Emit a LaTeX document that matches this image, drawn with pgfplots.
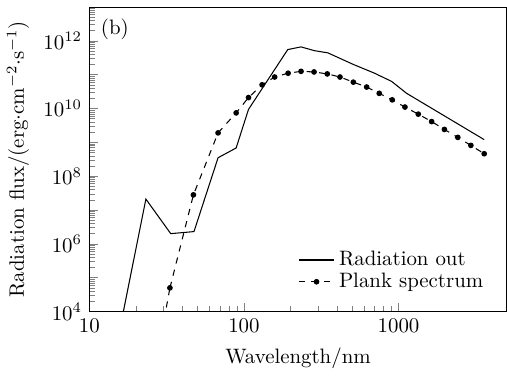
\documentclass[border=0pt]{standalone}
\usepackage{pgfplots}
\pgfplotsset{compat=1.18}
\begin{document}
\begin{tikzpicture}
\begin{loglogaxis}[
  scale only axis, width=200pt, height=146pt,
  xmin=10, xmax=5000, ymin=1e4, ymax=1e13,
  xtick={10,100,1000}, xticklabels={10,100,1000},
  ytick={1e4,1e5,1e6,1e7,1e8,1e9,1e10,1e11,1e12,1e13},
  yticklabels={$10^{4}$,,$10^{6}$,,$10^{8}$,,$10^{10}$,,$10^{12}$,},
  tick pos=left,
  xlabel={Wavelength/nm},
  ylabel={Radiation flux/(erg$\cdot$cm$^{-2}\cdot$s$^{-1}$)},
  legend style={draw=none, fill=none, at={(0.97,0.04)}, anchor=south east, row sep=-2pt},
  legend cell align=left,
  clip=true,
]
\addplot[black, line width=0.5pt] coordinates {
(15,1e3) (23.2,2.1e7) (33.6,2.0e6) (47.5,2.3e6) (68,3.5e8) (89,6.8e8) (107,9.4e9)
(192,5.5e11) (234,6.6e11) (286,5.1e11) (349,4.4e11) (510,2.0e11) (700,1.1e11) (902,6.3e10)
(1128,2.8e10) (3582,1.2e9)
};
\addlegendentry{Radiation out}
\addplot[black, line width=0.5pt, dashed, mark=*, mark size=1.1pt, mark options={solid}] coordinates {
(33.2,5e4) (47.1,2.8e7) (68,1.9e9) (89,7.4e9) (107,2.1e10) (131,5.0e10) (158,8.5e10)
(193,1.1e11) (234,1.25e11) (284,1.2e11) (346,1.05e11) (418,8.5e10) (510,6.0e10)
(622,4.3e10) (750,2.8e10) (910,1.8e10) (1100,1.1e10) (1342,6.8e9) (1637,4.1e9)
(1980,2.4e9) (2417,1.4e9) (2937,8.1e8) (3582,4.6e8)
};
\addlegendentry{Plank spectrum}
\addplot[black, line width=0.5pt, dashed, forget plot] coordinates {(23.2,7) (33.2,5e4)};
\node[anchor=north west] at (rel axis cs:0.01,0.985) {(b)};
\end{loglogaxis}
\end{tikzpicture}
\end{document}
